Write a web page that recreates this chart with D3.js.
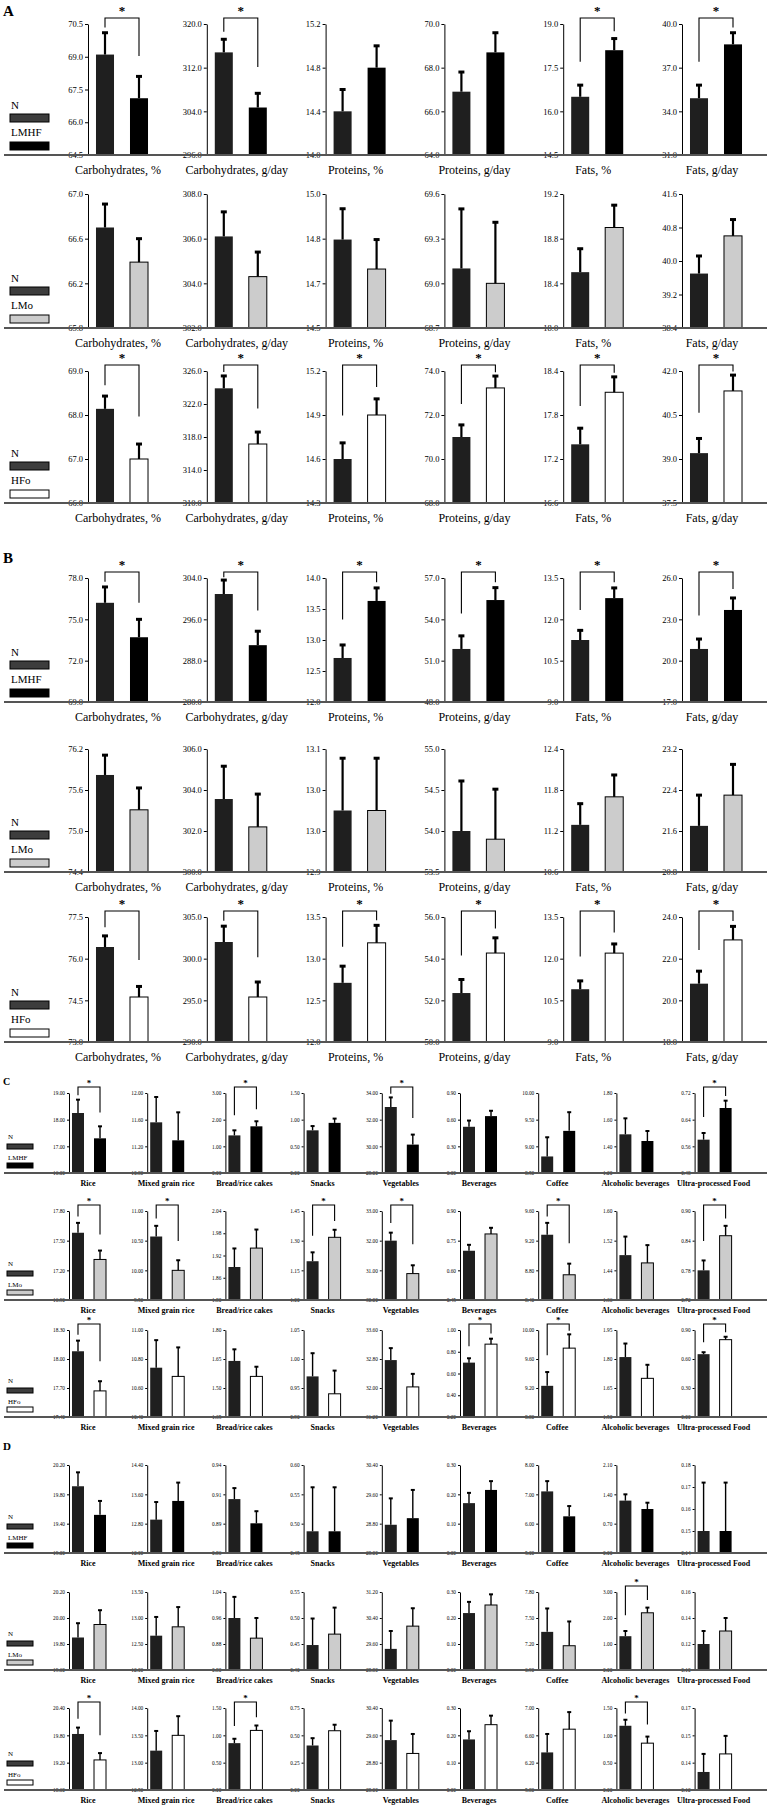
<!DOCTYPE html>
<html>
<head>
<meta charset="utf-8">
<script src="https://cdn.jsdelivr.net/npm/d3@7"></script>
<style>
  body { margin: 0; background: white; }
  text { font-family: "Liberation Serif", "Times New Roman", serif; }
</style>
</head>
<body>
<div id="container"></div>
<script>
const macroCats = ['Carbohydrates, %', 'Carbohydrates, g/day', 'Proteins, %', 'Proteins, g/day', 'Fats, %', 'Fats, g/day']
const foodCats = ['Rice', 'Mixed grain rice', 'Bread/rice cakes', 'Snacks', 'Vegetables', 'Beverages', 'Coffee', 'Alcoholic beverages', 'Ultra-processed Food']

// axis domains: [min, max, number of steps]
// n = N group mean, nse = its error, g = comparison group mean, gse = its error, sig = bracket with *

// A, N vs LMHF
const A1_dom = [[64.5, 70.5, 4], [296, 320, 3], [14.0, 15.2, 3], [64, 70, 3], [14.5, 19.0, 3], [31, 40, 3]]
const A1_n = [69.1, 314.8, 14.4, 66.9, 16.5, 34.9]
const A1_nse = [1.0, 2.4, 0.2, 0.9, 0.4, 0.9]
const A1_g = [67.1, 304.7, 14.8, 68.7, 18.1, 38.6]
const A1_gse = [1.0, 2.6, 0.2, 0.9, 0.4, 0.8]
const A1_sig = [1, 1, 0, 0, 1, 1]

// A, N vs LMo
const A2_dom = [[65.8, 67.0, 3], [302, 308, 3], [14.5, 15.0, 3], [68.7, 69.6, 3], [18.0, 19.2, 3], [38.4, 41.6, 4]]
const A2_n = [66.7, 306.1, 14.83, 69.1, 18.5, 39.7]
const A2_nse = [0.21, 1.1, 0.115, 0.4, 0.21, 0.42]
const A2_g = [66.39, 304.3, 14.72, 69.0, 18.9, 40.6]
const A2_gse = [0.21, 1.1, 0.11, 0.41, 0.2, 0.39]
const A2_sig = [0, 0, 0, 0, 0, 0]

// A, N vs HFo
const A3_dom = [[66, 69, 3], [310, 326, 4], [14.3, 15.2, 3], [68, 74, 3], [16.6, 18.4, 3], [37.5, 42.0, 3]]
const A3_n = [68.14, 323.9, 14.6, 71.0, 17.4, 39.2]
const A3_nse = [0.29, 1.5, 0.11, 0.55, 0.22, 0.5]
const A3_g = [67.0, 317.15, 14.9, 73.23, 18.11, 41.32]
const A3_gse = [0.34, 1.45, 0.11, 0.54, 0.21, 0.54]
const A3_sig = [1, 1, 1, 1, 1, 1]

// B, N vs LMHF
const B1_dom = [[69, 78, 3], [280, 304, 3], [12, 14, 4], [48, 57, 3], [9, 13.5, 3], [17, 26, 3]]
const B1_n = [76.2, 300.9, 12.71, 51.85, 11.25, 20.85]
const B1_nse = [1.15, 2.7, 0.21, 0.95, 0.35, 0.72]
const B1_g = [73.7, 291.0, 13.63, 55.4, 12.77, 23.68]
const B1_gse = [1.3, 2.7, 0.21, 0.9, 0.37, 0.87]
const B1_sig = [1, 1, 1, 1, 1, 1]

// B, N vs LMo
const B2_dom = [[74.4, 76.2, 3], [300, 306, 3], [12.9, 13.1, 3], [53.5, 55.0, 3], [10.6, 12.4, 3], [20.8, 23.2, 3]]
const B2_n = [75.82, 303.56, 13.0, 54.0, 11.29, 21.7]
const B2_nse = [0.29, 1.6, 0.085, 0.61, 0.31, 0.6]
const B2_g = [75.31, 302.2, 13.0, 53.9, 11.7, 22.3]
const B2_gse = [0.32, 1.6, 0.085, 0.61, 0.32, 0.6]
const B2_sig = [0, 0, 0, 0, 0, 0]

// B, N vs HFo
const B3_dom = [[73, 77.5, 3], [290, 305, 3], [12, 13.5, 3], [50, 56, 3], [9, 13.5, 3], [18, 24, 3]]
const B3_n = [76.42, 302.0, 12.71, 52.35, 10.9, 20.8]
const B3_nse = [0.4, 1.9, 0.2, 0.65, 0.3, 0.6]
const B3_g = [74.62, 295.4, 13.19, 54.27, 12.2, 22.9]
const B3_gse = [0.38, 1.8, 0.21, 0.73, 0.33, 0.65]
const B3_sig = [1, 1, 1, 1, 1, 1]

// C, N vs LMHF
const C1_dom = [[16, 19, 3], [10.8, 12, 3], [0, 3, 3], [0, 1.5, 3], [28, 34, 3], [0, 0.9, 3], [8.5, 10, 3], [1.2, 1.8, 3], [0.48, 0.72, 3]]
const C1_n = [18.25, 11.56, 1.41, 0.80, 32.95, 0.52, 8.81, 1.49, 0.58]
const C1_nse = [0.5, 0.38, 0.19, 0.08, 0.72, 0.07, 0.36, 0.12, 0.02]
const C1_g = [17.3, 11.29, 1.75, 0.94, 30.13, 0.64, 9.29, 1.44, 0.675]
const C1_gse = [0.45, 0.42, 0.19, 0.08, 0.75, 0.06, 0.35, 0.075, 0.022]
const C1_sig = [1, 0, 1, 0, 1, 0, 0, 0, 1]

// C, N vs LMo
const C2_dom = [[16.9, 17.8, 3], [9.5, 11, 3], [1.8, 2.04, 4], [1.0, 1.45, 3], [30, 33, 3], [0.45, 0.9, 3], [8.4, 9.6, 3], [1.36, 1.6, 3], [0.72, 0.9, 3]]
const C2_n = [17.58, 10.57, 1.889, 1.196, 32.0, 0.699, 9.28, 1.481, 0.78]
const C2_nse = [0.1, 0.18, 0.05, 0.045, 0.27, 0.03, 0.16, 0.05, 0.02]
const C2_g = [17.31, 10.0, 1.94, 1.317, 30.89, 0.784, 8.74, 1.46, 0.85]
const C2_gse = [0.09, 0.17, 0.05, 0.038, 0.28, 0.031, 0.15, 0.048, 0.02]
const C2_sig = [1, 1, 0, 1, 1, 0, 1, 0, 1]

// C, N vs HFo
const C3_dom = [[17.4, 18.3, 3], [10.4, 11, 3], [1.35, 1.8, 3], [0.9, 1.05, 3], [31.2, 33.6, 3], [0.2, 1.0, 4], [8.8, 10, 3], [1.5, 1.95, 3], [0, 0.9, 3]]
const C3_n = [18.08, 10.74, 1.64, 0.97, 32.77, 0.70, 9.23, 1.81, 0.65]
const C3_nse = [0.11, 0.19, 0.06, 0.04, 0.33, 0.04, 0.19, 0.07, 0.02]
const C3_g = [17.67, 10.68, 1.56, 0.94, 32.03, 0.87, 9.75, 1.70, 0.80]
const C3_gse = [0.1, 0.2, 0.05, 0.04, 0.36, 0.05, 0.19, 0.07, 0.03]
const C3_sig = [1, 0, 0, 0, 0, 1, 1, 0, 1]

// D, N vs LMHF
const D1_dom = [[19, 20.2, 3], [12, 14.4, 3], [0.86, 0.94, 3], [0.45, 0.6, 3], [28, 30.4, 3], [0, 0.3, 3], [5, 8, 3], [0, 2.1, 3], [0.14, 0.18, 4]]
const D1_n = [19.91, 12.91, 0.909, 0.487, 28.77, 0.17, 7.1, 1.25, 0.15]
const D1_nse = [0.19, 0.48, 0.01, 0.075, 0.72, 0.035, 0.35, 0.15, 0.022]
const D1_g = [19.52, 13.42, 0.887, 0.487, 28.95, 0.215, 6.25, 1.05, 0.15]
const D1_gse = [0.19, 0.5, 0.011, 0.075, 0.77, 0.03, 0.35, 0.15, 0.022]
const D1_sig = [0, 0, 0, 0, 0, 0, 0, 0, 0]

// D, N vs LMo
const D2_dom = [[19.6, 20.2, 3], [12, 13.5, 3], [0.8, 1.04, 3], [0.4, 0.55, 3], [28.8, 31.2, 3], [0, 0.3, 3], [6.9, 7.8, 3], [0, 3, 3], [0.1, 0.16, 3]]
const D2_n = [19.85, 12.66, 0.96, 0.448, 29.45, 0.219, 7.34, 1.3, 0.12]
const D2_nse = [0.11, 0.36, 0.065, 0.051, 0.55, 0.043, 0.27, 0.2, 0.01]
const D2_g = [19.95, 12.83, 0.898, 0.469, 30.15, 0.25, 7.18, 2.2, 0.13]
const D2_gse = [0.11, 0.38, 0.062, 0.051, 0.55, 0.041, 0.28, 0.2, 0.01]
const D2_sig = [0, 0, 0, 0, 0, 0, 0, 1, 0]

// D, N vs HFo
const D3_dom = [[18.6, 20.4, 3], [12.5, 14, 3], [0, 1.5, 3], [0, 0.75, 3], [28, 30.4, 3], [0, 0.3, 3], [5.8, 7, 3], [0, 1.5, 3], [0.12, 0.17, 3]]
const D3_n = [19.83, 13.22, 0.857, 0.407, 29.46, 0.185, 6.35, 1.175, 0.131]
const D3_nse = [0.14, 0.36, 0.08, 0.067, 0.57, 0.03, 0.27, 0.11, 0.011]
const D3_g = [19.26, 13.5, 1.09, 0.542, 29.07, 0.239, 6.69, 0.857, 0.142]
const D3_gse = [0.15, 0.35, 0.09, 0.055, 0.57, 0.033, 0.25, 0.12, 0.011]
const D3_sig = [1, 0, 1, 0, 0, 0, 0, 1, 0]

const w = 767
const h = 1809

const fills = { N: '#1f1f1f', LMHF: '#000000', LMo: '#cccccc', HFo: '#ffffff' }

const rows = [
  { cats: macroCats, grp: 'LMHF', dom: A1_dom, n: A1_n, nse: A1_nse, g: A1_g, gse: A1_gse, sig: A1_sig, top: 24, base: 155 },
  { cats: macroCats, grp: 'LMo', dom: A2_dom, n: A2_n, nse: A2_nse, g: A2_g, gse: A2_gse, sig: A2_sig, top: 194, base: 328 },
  { cats: macroCats, grp: 'HFo', dom: A3_dom, n: A3_n, nse: A3_nse, g: A3_g, gse: A3_gse, sig: A3_sig, top: 371, base: 503 },
  { cats: macroCats, grp: 'LMHF', dom: B1_dom, n: B1_n, nse: B1_nse, g: B1_g, gse: B1_gse, sig: B1_sig, top: 578, base: 702 },
  { cats: macroCats, grp: 'LMo', dom: B2_dom, n: B2_n, nse: B2_nse, g: B2_g, gse: B2_gse, sig: B2_sig, top: 749, base: 872 },
  { cats: macroCats, grp: 'HFo', dom: B3_dom, n: B3_n, nse: B3_nse, g: B3_g, gse: B3_gse, sig: B3_sig, top: 917, base: 1042 },
  { cats: foodCats, grp: 'LMHF', dom: C1_dom, n: C1_n, nse: C1_nse, g: C1_g, gse: C1_gse, sig: C1_sig, top: 1093, base: 1173 },
  { cats: foodCats, grp: 'LMo', dom: C2_dom, n: C2_n, nse: C2_nse, g: C2_g, gse: C2_gse, sig: C2_sig, top: 1211, base: 1300 },
  { cats: foodCats, grp: 'HFo', dom: C3_dom, n: C3_n, nse: C3_nse, g: C3_g, gse: C3_gse, sig: C3_sig, top: 1330, base: 1417 },
  { cats: foodCats, grp: 'LMHF', dom: D1_dom, n: D1_n, nse: D1_nse, g: D1_g, gse: D1_gse, sig: D1_sig, top: 1465, base: 1553 },
  { cats: foodCats, grp: 'LMo', dom: D2_dom, n: D2_n, nse: D2_nse, g: D2_g, gse: D2_gse, sig: D2_sig, top: 1592, base: 1670 },
  { cats: foodCats, grp: 'HFo', dom: D3_dom, n: D3_n, nse: D3_nse, g: D3_g, gse: D3_gse, sig: D3_sig, top: 1708, base: 1790 }
]

const letters = [
  { t: 'A', y: 16, fs: 15 },
  { t: 'B', y: 563, fs: 15 },
  { t: 'C', y: 1085, fs: 10 },
  { t: 'D', y: 1450, fs: 11 }
]

const big = { x0: 88, dx: 118.8, len: 68, pi: 0.47, po: 0.235, tickFs: 8.5, catFs: 12, catW: 'normal', legFs: 11, legW: 39, legH: 8,
  errW: 2.2, capW: 6, capT: 3, starFs: 13, starDy: -3, fmt: d3.format('.1f'), labDy: 19, tickGap: 3, labOff: 30 }
const small = { x0: 69, dx: 78.2, len: 40, pi: 0.455, po: 0.136, tickFs: 5.3, catFs: 8, catW: 'bold', legFs: 7, legW: 26, legH: 5,
  errW: 1.4, capW: 4, capT: 2, starFs: 9, starDy: -1, fmt: d3.format('.2f'), labDy: 13, tickGap: 2, labOff: 19 }

const svg = d3.select('#container')
  .append('svg')
    .attr('width', w)
    .attr('height', h)
    .style('background', 'white')

letters.forEach(l => {
  svg.append('text')
    .attr('x', 3)
    .attr('y', l.y)
    .attr('font-family', '"Liberation Sans", Arial, sans-serif')
    .attr('font-weight', 'bold')
    .attr('font-size', l.fs)
    .text(l.t)
})

const drawRow = (r) => {
  const s = r.cats === macroCats ? big : small
  const row = svg.append('g')

  r.cats.forEach((cat, i) => {
    const ax = s.x0 + s.dx * i
    const [lo, hi, steps] = r.dom[i]
    const y = d3.scaleLinear().domain([lo, hi]).range([r.base, r.top])
    const x = d3.scaleBand()
      .domain(['N', r.grp])
      .range([ax, ax + s.len])
      .paddingInner(s.pi)
      .paddingOuter(s.po)

    const tickVals = d3.range(steps + 1).map(k => lo + (hi - lo) * k / steps)

    const axis = row.append('g')
      .attr('transform', `translate(${ax}, 0)`)
      .call(d3.axisLeft(y).tickValues(tickVals).tickSize(s.tickGap).tickSizeOuter(0).tickFormat(s.fmt))
    axis.attr('font-family', null).attr('font-size', null)
    axis.selectAll('text')
      .attr('font-size', s.tickFs)
      .attr('x', -(s.tickGap + 2))
    axis.select('.domain').attr('stroke-width', 1)

    const bars = [
      { key: 'N', v: r.n[i], e: r.nse[i] },
      { key: r.grp, v: r.g[i], e: r.gse[i] }
    ]

    row.selectAll(null)
      .data(bars)
      .enter()
      .append('rect')
        .attr('x', d => x(d.key))
        .attr('width', x.bandwidth())
        .attr('y', d => y(d.v))
        .attr('height', d => r.base - y(d.v))
        .attr('fill', d => fills[d.key])
        .attr('stroke', d => d.key === 'N' || d.key === 'LMHF' ? 'none' : '#000')
        .attr('stroke-width', 1)

    row.selectAll(null)
      .data(bars)
      .enter()
      .append('line')
        .attr('x1', d => x(d.key) + x.bandwidth() / 2)
        .attr('x2', d => x(d.key) + x.bandwidth() / 2)
        .attr('y1', d => y(d.v))
        .attr('y2', d => y(d.v + d.e))
        .attr('stroke', '#000')
        .attr('stroke-width', s.errW)

    row.selectAll(null)
      .data(bars)
      .enter()
      .append('line')
        .attr('x1', d => x(d.key) + x.bandwidth() / 2 - s.capW / 2)
        .attr('x2', d => x(d.key) + x.bandwidth() / 2 + s.capW / 2)
        .attr('y1', d => y(d.v + d.e))
        .attr('y2', d => y(d.v + d.e))
        .attr('stroke', '#000')
        .attr('stroke-width', s.capT)

    if (r.sig[i]) {
      const bt = r.top - 6
      const legEnd = d => bt + 0.65 * (y(d.v + d.e) - bt)
      const xl = x('N') + x.bandwidth() / 2
      const xr = x(r.grp) + x.bandwidth() / 2
      row.append('path')
        .attr('d', `M${xl},${legEnd(bars[0])}V${bt}H${xr}V${legEnd(bars[1])}`)
        .attr('fill', 'none')
        .attr('stroke', '#000')
        .attr('stroke-width', 1.1)
      row.append('text')
        .attr('x', (xl + xr) / 2)
        .attr('y', bt + s.starDy)
        .attr('text-anchor', 'middle')
        .attr('font-size', s.starFs)
        .attr('font-weight', 'bold')
        .text('*')
    }

    row.append('text')
      .attr('x', ax + s.labOff)
      .attr('y', r.base + s.labDy)
      .attr('text-anchor', 'middle')
      .attr('font-size', s.catFs)
      .attr('font-weight', s.catW)
      .text(cat)
  })

  // legend
  const lg = row.append('g')
  const isBig = s === big
  const t1 = r.base - (isBig ? 46 : 34)
  const b1 = r.base - (isBig ? 41 : 29)
  const t2 = r.base - (isBig ? 19 : 13)
  const b2 = r.base - (isBig ? 13 : 10)
  const lx = isBig ? 10 : 7
  lg.append('text').attr('x', lx + 1).attr('y', t1).attr('font-size', s.legFs).text('N')
  lg.append('rect').attr('x', lx).attr('y', b1).attr('width', s.legW).attr('height', s.legH)
    .attr('fill', '#3d3d3d').attr('stroke', '#000').attr('stroke-width', 1)
  lg.append('text').attr('x', lx + 1).attr('y', t2).attr('font-size', s.legFs).text(r.grp)
  lg.append('rect').attr('x', lx).attr('y', b2).attr('width', s.legW).attr('height', s.legH)
    .attr('fill', fills[r.grp]).attr('stroke', '#000').attr('stroke-width', 1)

  // long baseline across the row
  row.append('line')
    .attr('x1', 4)
    .attr('x2', w)
    .attr('y1', r.base)
    .attr('y2', r.base)
    .attr('stroke', '#555')
    .attr('stroke-width', 1.8)
}

rows.forEach(drawRow)
</script>
</body>
</html>
